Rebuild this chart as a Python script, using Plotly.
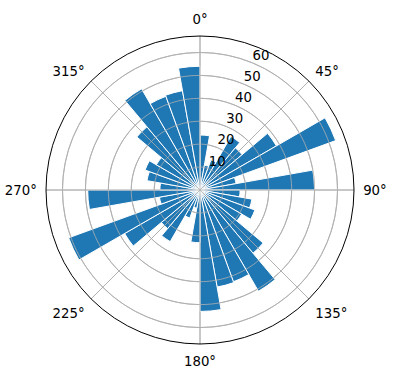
import plotly.graph_objects as go

# bar sectors: [start, start+10] degrees, clockwise from north
sector_start = list(range(0, 360, 10))
values = [24, 11, 14, 27, 24, 38.5, 63, 16, 50,
          17.5, 23, 25.5, 21, 36, 51, 42.6, 43, 53,
          23, 8, 13, 26, 22, 38, 61, 18, 49,
          17.5, 23.5, 25.5, 22, 36, 51, 43.5, 44, 54]
radial_ticks = [10, 20, 30, 40, 50, 60]
radial_label_angle = 22.5
angle_ticks = [0, 45, 90, 135, 180, 225, 270, 315]
r_max = 67.2

GRID = "#b0b0b0"
theta_centers = [s + 5 for s in sector_start]

fig = go.Figure()
fig.add_trace(go.Barpolar(
    r=values,
    theta=theta_centers,
    width=[10] * len(values),
    marker=dict(color="#1f77b4", line=dict(color="white", width=1)),
    opacity=1,
    hoverinfo="skip",
))

# grid drawn above the bars (as in the reference)
ring_theta = list(range(0, 361, 2))
for rt in radial_ticks:
    fig.add_trace(go.Scatterpolar(
        r=[rt] * len(ring_theta), theta=ring_theta, mode="lines",
        line=dict(color=GRID, width=0.8), hoverinfo="skip",
    ))
for at in angle_ticks:
    fig.add_trace(go.Scatterpolar(
        r=[0, r_max], theta=[at, at], mode="lines",
        line=dict(color=GRID, width=0.8), hoverinfo="skip",
    ))

fig.add_trace(go.Scatterpolar(
    r=radial_ticks,
    theta=[radial_label_angle] * len(radial_ticks),
    mode="text",
    text=[str(t) for t in radial_ticks],
    textposition="top right",
    textfont=dict(family="DejaVu Sans", size=13.3, color="black"),
    hoverinfo="skip",
    cliponaxis=False,
))

fig.update_layout(
    width=396, height=380,
    margin=dict(l=0, r=0, t=0, b=0),
    paper_bgcolor="white",
    showlegend=False,
    font=dict(family="DejaVu Sans", size=13.3, color="black"),
    polar=dict(
        domain=dict(x=[46/396, 354/396], y=[1-344/380, 1-36/380]),
        bgcolor="white",
        bargap=0,
        angularaxis=dict(
            rotation=90, direction="clockwise",
            tickmode="array", tickvals=angle_ticks,
            ticktext=[f"{a}°" for a in angle_ticks],
            showgrid=True, gridcolor=GRID, gridwidth=0.8,
            showline=True, linecolor="black", linewidth=1,
            ticks="outside", ticklen=6, tickcolor="rgba(0,0,0,0)",
            layer="above traces",
            tickfont=dict(size=13.3),
        ),
        radialaxis=dict(
            range=[0, r_max], angle=67.5,
            tickmode="array", tickvals=radial_ticks,
            showticklabels=False,
            showgrid=True, gridcolor=GRID, gridwidth=0.8,
            showline=False, ticks="", layer="above traces",
        ),
    ),
)

fig.write_html("out.html")
